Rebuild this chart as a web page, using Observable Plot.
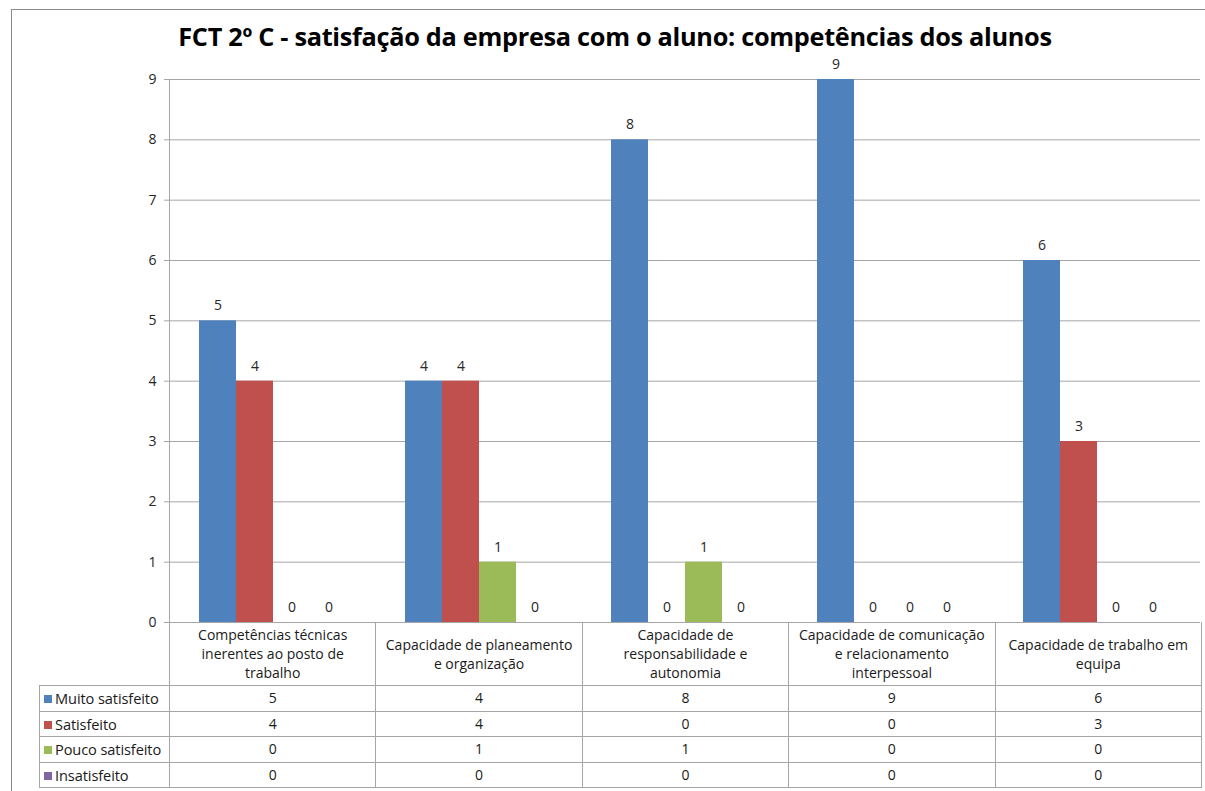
<!DOCTYPE html>
<html>
<head>
<meta charset="utf-8">
<script src="https://cdn.jsdelivr.net/npm/d3@7"></script>
<script src="https://cdn.jsdelivr.net/npm/@observablehq/plot@0.6"></script>
<style>
  html, body { margin: 0; padding: 0; background: #fff; }
  #wrap { position: relative; width: 1205px; height: 791px; overflow: hidden; font-family: "Open Sans", sans-serif; }
  #frame { position: absolute; left: 11px; top: 9px; width: 1300px; height: 900px; border-left: 1px solid #8a8a8a; border-top: 1px solid #8a8a8a; box-sizing: border-box; }
  #chart { position: absolute; left: 0; top: 0; }
  #chart svg { background: transparent !important; }
  #title { position: absolute; left: 0; width: 1230px; top: 21px; line-height: 30px; text-align: center; font-weight: bold; font-size: 25.3px; color: #000; white-space: nowrap; letter-spacing: -0.3px; }
  #tbl { position: absolute; left: 39px; top: 622px; border-collapse: collapse; table-layout: fixed; width: 1162px; font-size: 14px; color: #1a1a1a; }
  #tbl td { border: 1px solid #a6a6a6; text-align: center; padding: 0 2px; height: 24.5px; line-height: 16px; overflow: hidden; }
  #tbl tr.head td { height: 63px; border-top: none; line-height: 19px; }
  #tbl tr.head td.blank { border: none; }
  #tbl td.lab { text-align: left; padding-left: 4px; white-space: nowrap; letter-spacing: -0.1px; font-size: 14.6px; }
  .key { display: inline-block; width: 8px; height: 8px; margin-right: 3px; vertical-align: 1px; }
</style>
</head>
<body>
<div id="wrap">
  <div id="frame"></div>
  <div id="chart"></div>
  <div id="title"></div>
  <table id="tbl"></table>
</div>
<script>
const title = "FCT 2º C - satisfação da empresa com o aluno: competências dos alunos";
const categories = [
  "Competências técnicas inerentes ao posto de trabalho",
  "Capacidade de planeamento e organização",
  "Capacidade de responsabilidade e autonomia",
  "Capacidade de comunicação e relacionamento interpessoal",
  "Capacidade de trabalho em equipa"
];
const categoryLabelLines = [
  ["Competências técnicas", "inerentes ao posto de", "trabalho"],
  ["Capacidade de planeamento", "e organização"],
  ["Capacidade de", "responsabilidade e", "autonomia"],
  ["Capacidade de comunicação", "e relacionamento", "interpessoal"],
  ["Capacidade de trabalho em", "equipa"]
];
const series = ["Muito satisfeito", "Satisfeito", "Pouco satisfeito", "Insatisfeito"];
const muitoSatisfeito = [5, 4, 8, 9, 6];
const satisfeito = [4, 4, 0, 0, 3];
const poucoSatisfeito = [0, 1, 1, 0, 0];
const insatisfeito = [0, 0, 0, 0, 0];
const seriesColors = ["#4F81BD", "#C0504D", "#9BBB59", "#8064A2"];
const yTicks = [0, 1, 2, 3, 4, 5, 6, 7, 8, 9];

const seriesValues = [muitoSatisfeito, satisfeito, poucoSatisfeito, insatisfeito];
const data = categories.flatMap((c, i) =>
  series.map((s, j) => ({category: c, series: s, value: seriesValues[j][i]}))
);

document.getElementById("title").textContent = title;

const plot = Plot.plot({
  width: 1205,
  height: 640,
  marginLeft: 169,
  marginRight: 4,
  marginTop: 79,
  marginBottom: 18,
  style: {fontFamily: "'Open Sans', sans-serif", fontSize: "14px", color: "#262626", background: "transparent"},
  fx: {domain: categories, padding: 0, axis: null},
  x: {domain: series, paddingInner: 0, paddingOuter: 0.75, axis: null},
  y: {domain: [0, 9], ticks: yTicks, tickSize: 6, tickPadding: 8, tickFormat: d3.format("d"), label: null, line: false},
  color: {domain: series, range: seriesColors},
  marks: [
    Plot.ruleY(yTicks, {stroke: "#a6a6a6", strokeWidth: 1}),
    Plot.barY(data, {fx: "category", x: "series", y: "value", fill: "series"}),
    Plot.text(data, {fx: "category", x: "series", y: "value", text: d => String(d.value), dy: -15, fill: "#262626", fontSize: 14})
  ]
});
document.getElementById("chart").appendChild(plot);

const svg = d3.select(plot);
svg.selectAll("g[aria-label='y-axis tick'] path, g[aria-label='y-axis'] line").attr("stroke", "#a6a6a6");
svg.append("line").attr("x1", 169.5).attr("x2", 169.5).attr("y1", 79).attr("y2", 622).attr("stroke", "#a6a6a6");

// data table below the plot
const tbl = d3.select("#tbl");
const cg = tbl.append("colgroup");
cg.append("col").style("width", "130px");
categories.forEach(() => cg.append("col").style("width", "206.4px"));
const head = tbl.append("tr").attr("class", "head");
head.append("td").attr("class", "blank");
categoryLabelLines.forEach(lines => head.append("td").html(lines.join("<br>")));
series.forEach((s, j) => {
  const tr = tbl.append("tr");
  const lab = tr.append("td").attr("class", "lab");
  lab.append("span").attr("class", "key").style("background", seriesColors[j]);
  lab.append("span").text(s);
  seriesValues[j].forEach(v => tr.append("td").text(v));
});
</script>
</body>
</html>
